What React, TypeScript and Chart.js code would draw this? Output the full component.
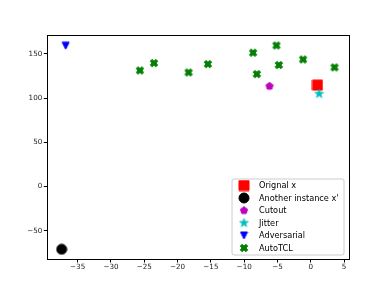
import React, { useEffect, useRef } from "react";
import { Chart, registerables } from "chart.js";

Chart.register(...registerables);

const seriesLabels = ["Orignal x", "Another instance x'", "Cutout", "Jitter", "Adversarial", "AutoTCL"];
const originalX = [{ x: 1.0, y: 114.6 }];
const anotherX = [{ x: -37.4, y: -70.7 }];
const cutoutX = [{ x: -6.2, y: 113.4 }];
const jitterX = [{ x: 1.25, y: 104.7 }];
const adversarialX = [{ x: -36.8, y: 159.0 }];
const autoTCL = [
  { x: -25.66, y: 131.1 },
  { x: -23.55, y: 139.4 },
  { x: -18.35, y: 128.8 },
  { x: -15.45, y: 138.3 },
  { x: -8.66, y: 151.1 },
  { x: -8.1, y: 127.0 },
  { x: -5.15, y: 159.3 },
  { x: -4.8, y: 137.2 },
  { x: -1.16, y: 143.5 },
  { x: 3.56, y: 134.5 },
];
const xTicksStep = 5;
const yTicksStep = 50;
const xRange = [-39.56, 5.66];
const yRange = [-81.7, 171.1];

type Kind = "square" | "circle" | "pentagon" | "star" | "tridown" | "xfill";

function makeMarker(kind: Kind, color: string, size: number): HTMLCanvasElement {
  const c = document.createElement("canvas");
  const dim = Math.ceil(size + 2);
  c.width = dim;
  c.height = dim;
  const ctx = c.getContext("2d")!;
  ctx.translate(dim / 2, dim / 2);
  ctx.fillStyle = color;
  ctx.strokeStyle = color;
  ctx.lineWidth = 1;
  ctx.lineJoin = "miter";
  ctx.beginPath();
  const r = size / 2;
  if (kind === "square") {
    ctx.rect(-r, -r, size, size);
  } else if (kind === "circle") {
    ctx.arc(0, 0, r, 0, Math.PI * 2);
  } else if (kind === "pentagon") {
    for (let k = 0; k < 5; k++) {
      const a = -Math.PI / 2 + (k * 2 * Math.PI) / 5;
      const px = r * Math.cos(a);
      const py = r * Math.sin(a);
      if (k === 0) ctx.moveTo(px, py);
      else ctx.lineTo(px, py);
    }
    ctx.closePath();
  } else if (kind === "star") {
    for (let k = 0; k < 10; k++) {
      const a = -Math.PI / 2 + (k * Math.PI) / 5;
      const rr = k % 2 === 0 ? r : r * 0.381966;
      const px = rr * Math.cos(a);
      const py = rr * Math.sin(a);
      if (k === 0) ctx.moveTo(px, py);
      else ctx.lineTo(px, py);
    }
    ctx.closePath();
  } else if (kind === "tridown") {
    ctx.moveTo(0, r);
    ctx.lineTo(-r, -r);
    ctx.lineTo(r, -r);
    ctx.closePath();
  } else if (kind === "xfill") {
    const k = size / 5.66;
    const pts = [
      [-1, -3], [1, -3], [1, -1], [3, -1], [3, 1], [1, 1],
      [1, 3], [-1, 3], [-1, 1], [-3, 1], [-3, -1], [-1, -1],
    ];
    const cs = Math.cos(Math.PI / 4);
    pts.forEach(([px, py], i) => {
      const X = (px - py) * cs * k;
      const Y = (px + py) * cs * k;
      if (i === 0) ctx.moveTo(X, Y);
      else ctx.lineTo(X, Y);
    });
    ctx.closePath();
  }
  ctx.fill();
  ctx.stroke();
  return c;
}

export default function App() {
  const ref = useRef<HTMLCanvasElement | null>(null);

  useEffect(() => {
    if (!ref.current) return;
    const font = "'DejaVu Sans', sans-serif";
    const markers = [
      makeMarker("square", "#ff0000", 10),
      makeMarker("circle", "#000000", 10),
      makeMarker("pentagon", "#bf00bf", 7.5),
      makeMarker("star", "#00bfbf", 9),
      makeMarker("tridown", "#0000ff", 7),
      makeMarker("xfill", "#008000", 7.5),
    ];
    const dataArr = [originalX, anotherX, cutoutX, jitterX, adversarialX, autoTCL];
    const datasets = dataArr.map((d, i) => ({
      label: seriesLabels[i],
      data: d,
      pointStyle: markers[i] as any,
      pointRadius: 5,
      order: dataArr.length - i,
    }));

    const frame = {
      id: "frameAndLegend",
      afterDraw(chart: any) {
        const { ctx, chartArea } = chart;
        ctx.save();
        ctx.strokeStyle = "#000";
        ctx.lineWidth = 1;
        ctx.strokeRect(
          Math.round(chartArea.left) + 0.5,
          Math.round(chartArea.top) + 0.5,
          Math.round(chartArea.right) - Math.round(chartArea.left),
          Math.round(chartArea.bottom) - Math.round(chartArea.top)
        );
        // legend
        const w = 112;
        const h = 76;
        const bx = chartArea.right - 4.5 - w;
        const by = chartArea.bottom - 4 - h;
        ctx.beginPath();
        const rad = 2;
        ctx.moveTo(bx + rad, by);
        ctx.lineTo(bx + w - rad, by);
        ctx.arcTo(bx + w, by, bx + w, by + rad, rad);
        ctx.lineTo(bx + w, by + h - rad);
        ctx.arcTo(bx + w, by + h, bx + w - rad, by + h, rad);
        ctx.lineTo(bx + rad, by + h);
        ctx.arcTo(bx, by + h, bx, by + h - rad, rad);
        ctx.lineTo(bx, by + rad);
        ctx.arcTo(bx, by, bx + rad, by, rad);
        ctx.closePath();
        ctx.fillStyle = "rgba(255,255,255,0.8)";
        ctx.fill();
        ctx.strokeStyle = "#cccccc";
        ctx.stroke();
        ctx.font = `8.2px ${font}`;
        ctx.fillStyle = "#000";
        ctx.textBaseline = "middle";
        ctx.textAlign = "left";
        chart.data.datasets.forEach((ds: any, i: number) => {
          const cy = by + 6.5 + i * 12.5;
          const img = ds.pointStyle as HTMLCanvasElement;
          ctx.drawImage(img, bx + 12 - img.width / 2, cy - img.height / 2);
          ctx.fillText(ds.label, bx + 27, cy + 0.5);
        });
        ctx.restore();
      },
    };

    const fmt = (v: any) => {
      const n = Number(v);
      return n < 0 ? "\u2212" + Math.abs(n) : String(n);
    };

    const chart = new Chart(ref.current, {
      type: "scatter",
      data: { datasets },
      options: {
        animation: false,
        responsive: false,
        layout: { padding: { top: 35, right: 38.5, left: 0, bottom: 0 } },
        plugins: { legend: { display: false }, tooltip: { enabled: false } },
        scales: {
          x: {
            type: "linear",
            min: xRange[0],
            max: xRange[1],
            afterFit: (s: any) => {
              s.height = 36;
            },
            grid: { drawOnChartArea: false, tickLength: 3.5, color: "#000" },
            border: { display: true, color: "#000", width: 1 },
            ticks: {
              stepSize: xTicksStep,
              includeBounds: false,
              maxRotation: 0,
              autoSkip: false,
              padding: 0,
              color: "#222",
              font: { family: font, size: 7.2 },
              callback: fmt,
            },
          },
          y: {
            type: "linear",
            min: yRange[0],
            max: yRange[1],
            afterFit: (s: any) => {
              s.width = 47.3;
            },
            grid: { drawOnChartArea: false, tickLength: 3.5, color: "#000" },
            border: { display: true, color: "#000", width: 1 },
            ticks: {
              stepSize: yTicksStep,
              includeBounds: false,
              autoSkip: false,
              padding: 1.5,
              color: "#222",
              font: { family: font, size: 7.2 },
              callback: fmt,
            },
          },
        },
      },
      plugins: [frame],
    } as any);
    return () => chart.destroy();
  }, []);

  return (
    <div style={{ position: "absolute", left: 0, top: 0, width: 387, height: 295, background: "#fff" }}>
      <canvas ref={ref} width={387} height={295} />
    </div>
  );
}
